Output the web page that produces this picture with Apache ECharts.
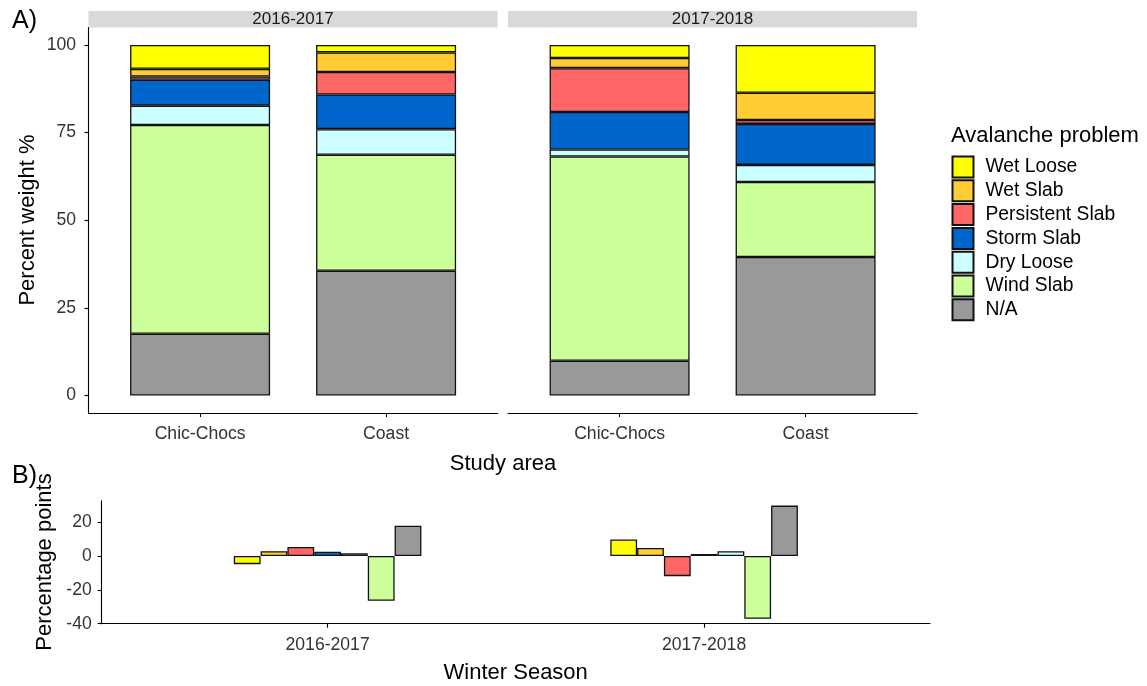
<!DOCTYPE html>
<html>
<head>
<meta charset="utf-8">
<script src="https://cdn.jsdelivr.net/npm/echarts@6/dist/echarts.min.js"></script>
<style>
html,body{margin:0;padding:0;background:#fff;}
#c{width:1147px;height:686px;}
</style>
</head>
<body>
<div id="c"></div>
<script>
// ---------- data ----------
const seasons = ['2016-2017', '2017-2018'];
const areas = ['Chic-Chocs', 'Coast'];
const problems = ['Wet Loose', 'Wet Slab', 'Persistent Slab', 'Storm Slab', 'Dry Loose', 'Wind Slab', 'N/A'];
const colors = ['#FFFF00', '#FFCC33', '#FF6666', '#0066CC', '#CCFFFF', '#CCFF99', '#999999'];
// percent weight per problem (legend order), values for [Chic-Chocs, Coast]
const weight1617 = {
  'Wet Loose': [6.8, 2.1],
  'Wet Slab': [2.2, 5.6],
  'Persistent Slab': [0.9, 6.4],
  'Storm Slab': [7.4, 9.9],
  'Dry Loose': [5.5, 7.3],
  'Wind Slab': [59.6, 33.1],
  'N/A': [17.6, 35.6]
};
const weight1718 = {
  'Wet Loose': [3.7, 13.6],
  'Wet Slab': [2.9, 7.8],
  'Persistent Slab': [12.5, 1.1],
  'Storm Slab': [10.7, 11.7],
  'Dry Loose': [2.0, 4.9],
  'Wind Slab': [58.3, 21.4],
  'N/A': [9.9, 39.5]
};
// percentage points difference per problem, values for [2016-2017, 2017-2018]
const diffPoints = {
  'Wet Loose': [-4.8, 9.8],
  'Wet Slab': [2.8, 4.8],
  'Persistent Slab': [5.4, -11.9],
  'Storm Slab': [2.6, 1.2],
  'Dry Loose': [1.6, 2.8],
  'Wind Slab': [-26.4, -37.1],
  'N/A': [17.9, 29.8]
};
const yTicksA = [0, 25, 50, 75, 100];
const yTicksB = [-40, -20, 0, 20];

// ---------- chart ----------
const FONT = 'Liberation Sans';
const chart = echarts.init(document.getElementById('c'), null, {renderer: 'canvas'});
const axisLineStyle = {color: '#000', width: 1.1};
const tickLabel = {fontFamily: FONT, fontSize: 17.6, color: '#333'};

// frame grids carry the visible axes; bar grids carry category bands centred like ggplot's discrete scale
const unitA = 186;       // px per discrete unit in panel A
const unitB = 376.5;     // px per discrete unit in panel B
const topA = 27.5, hA = 385.5;
const grids = [
  {left: 88.5, top: topA, width: 2.2 * unitA, height: hA},
  {left: 508, top: topA, width: 2.2 * unitA, height: hA},
  {left: 101.7, top: 500.7, width: 2.2 * unitB, height: 123},
  {left: 88.5 + 0.1 * unitA, top: topA, width: 2 * unitA, height: hA},
  {left: 508 + 0.1 * unitA, top: topA, width: 2 * unitA, height: hA},
  {left: 101.7 + 0.1 * unitB, top: 500.7, width: 2 * unitB, height: 123}
];

const frameX = (gi, names) => ({
  type: 'value', gridIndex: gi, min: 0.4, max: 2.6,
  axisLine: {show: true, onZero: false, lineStyle: axisLineStyle},
  axisTick: {show: true, length: 4, lineStyle: axisLineStyle, customValues: [1, 2]},
  axisLabel: Object.assign({customValues: [1, 2], formatter: v => names[Math.round(v) - 1], margin: 12}, tickLabel),
  splitLine: {show: false}
});
const hiddenCat = (gi, names) => ({
  type: 'category', gridIndex: gi, data: names,
  axisLine: {show: false}, axisTick: {show: false}, axisLabel: {show: false}, splitLine: {show: false}
});
const hiddenVal = (gi, mn, mx) => ({
  type: 'value', gridIndex: gi, min: mn, max: mx,
  axisLine: {show: false}, axisTick: {show: false}, axisLabel: {show: false}, splitLine: {show: false}
});

const xAxes = [
  frameX(0, areas), frameX(1, areas), frameX(2, seasons),
  hiddenCat(3, areas), hiddenCat(4, areas), hiddenCat(5, seasons)
];
const yAxes = [
  {type: 'value', gridIndex: 0, min: -5, max: 105,
    axisLine: {show: true, onZero: false, lineStyle: axisLineStyle},
    axisTick: {show: true, length: 4, lineStyle: axisLineStyle, customValues: yTicksA},
    axisLabel: Object.assign({customValues: yTicksA, margin: 12.5}, tickLabel),
    splitLine: {show: false}},
  hiddenVal(1, -5, 105),
  {type: 'value', gridIndex: 2, min: -40, max: 32.7,
    axisLine: {show: true, onZero: false, lineStyle: axisLineStyle},
    axisTick: {show: true, length: 4, lineStyle: axisLineStyle, customValues: yTicksB},
    axisLabel: Object.assign({customValues: yTicksB, margin: 10}, tickLabel),
    splitLine: {show: false}},
  hiddenVal(3, -5, 105), hiddenVal(4, -5, 105), hiddenVal(5, -40, 32.7)
];

const series = [];
const stackOrder = problems.slice().reverse(); // bottom to top
[weight1617, weight1718].forEach((w, gi) => {
  stackOrder.forEach(p => {
    const ci = problems.indexOf(p);
    series.push({
      type: 'bar', name: p, xAxisIndex: 3 + gi, yAxisIndex: 3 + gi, stack: 'facet' + gi,
      barWidth: 140,
      data: w[p],
      itemStyle: {color: colors[ci], borderColor: '#111', borderWidth: 1.3},
      emphasis: {disabled: true}
    });
  });
});
problems.forEach((p, ci) => {
  series.push({
    type: 'bar', name: p, xAxisIndex: 5, yAxisIndex: 5,
    barWidth: 26.8, barGap: '0%',
    data: diffPoints[p],
    itemStyle: {color: colors[ci], borderColor: '#111', borderWidth: 1.3},
    emphasis: {disabled: true}
  });
});

const txt = (x, y, text, size, opts) => Object.assign({
  type: 'text', x: x, y: y,
  style: Object.assign({text: text, fontFamily: FONT, fontSize: size, fill: '#000',
    textAlign: 'center', textVerticalAlign: 'middle'}, (opts && opts.style) || {})
}, opts ? {rotation: opts.rotation || 0} : {});

const graphics = [
  {type: 'rect', shape: {x: 88.5, y: 11, width: 409, height: 16.5}, style: {fill: '#D9D9D9'}, z: 0},
  {type: 'rect', shape: {x: 508, y: 11, width: 409, height: 16.5}, style: {fill: '#D9D9D9'}, z: 0},
  txt(293, 19.5, seasons[0], 17, {style: {fill: '#1a1a1a'}}),
  txt(712.5, 19.5, seasons[1], 17, {style: {fill: '#1a1a1a'}}),
  txt(12, 21, 'A)', 25, {style: {textAlign: 'left'}}),
  txt(12, 476, 'B)', 25, {style: {textAlign: 'left'}}),
  txt(28, 220, 'Percent weight %', 22, {rotation: Math.PI / 2}),
  txt(45, 562, 'Percentage points', 22, {rotation: Math.PI / 2}),
  txt(503, 464, 'Study area', 22),
  txt(515.7, 673, 'Winter Season', 22),
  txt(951, 136, 'Avalanche problem', 22, {style: {textAlign: 'left'}})
];

chart.setOption({
  animation: false,
  backgroundColor: '#fff',
  grid: grids,
  xAxis: xAxes,
  yAxis: yAxes,
  legend: {
    data: problems, orient: 'vertical', left: 951.5, top: 155.5, padding: 0,
    icon: 'rect', itemWidth: 21, itemHeight: 21, itemGap: 0.8,
    selectedMode: false,
    textStyle: {fontFamily: FONT, fontSize: 19.3, lineHeight: 21, color: '#000', padding: [0, 0, 0, 7]}
  },
  graphic: graphics,
  series: series
});
</script>
</body>
</html>
